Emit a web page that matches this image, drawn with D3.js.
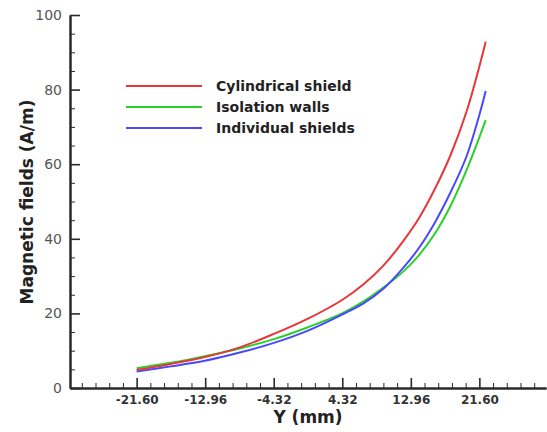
<!DOCTYPE html>
<html>
<head>
<meta charset="utf-8">
<script src="https://cdn.jsdelivr.net/npm/d3@7"></script>
<style>
  html, body { margin: 0; padding: 0; background: #fff; }
  svg { display: block; }
</style>
</head>
<body>
<svg id="chart" width="547" height="432"></svg>
<script>
// Sample positions along Y (mm)
const yPositions = [-21.6, -17.3, -13.0, -8.6, -4.3, 0.0, 4.3, 7.0, 9.5, 12.0, 14.0, 16.0, 18.0, 20.0, 21.6, 22.4];

// Magnetic field (A/m) for each shielding arrangement
const cylindricalShield = [4.85, 6.45, 8.3, 10.9, 14.5, 18.6, 23.6, 27.8, 32.8, 39.4, 45.6, 53.4, 62.6, 74.2, 86.2, 92.8];
const isolationWalls    = [5.3, 6.75, 8.55, 10.6, 13.1, 16.3, 20.0, 23.2, 26.9, 31.2, 35.6, 41.4, 49.0, 58.5, 67.2, 71.8];
const individualShields = [4.45, 5.8, 7.3, 9.5, 12.1, 15.4, 19.7, 22.7, 26.6, 32.2, 37.6, 44.4, 52.6, 62.2, 73.2, 79.6];

const seriesNames = ["Cylindrical shield", "Isolation walls", "Individual shields"];
const seriesColors = ["#e8363a", "#2bd02b", "#4848ff"];

// Axis ticks
const xTicks = [-21.60, -12.96, -4.32, 4.32, 12.96, 21.60];
const xTickLabels = ["-21.60", "-12.96", "-4.32", "4.32", "12.96", "21.60"];
const yTicks = [0, 20, 40, 60, 80, 100];

const svg = d3.select("#chart");

const x = d3.scaleLinear().domain([-30, 30]).range([70, 546]);
const y = d3.scaleLinear().domain([0, 100]).range([388, 15]);

const axisColor = "#2a2a2a";

// minor ticks: five intervals between x labels, four between y labels
const xMinor = d3.range(-19, 15).map(m => 4.32 + 1.728 * m).filter(v => !xTicks.some(t => Math.abs(t - v) < 1e-6));
const yMinor = d3.range(0, 101, 5).filter(v => v % 20 !== 0);

const xMinorAxis = d3.axisBottom(x).tickValues(xMinor).tickSize(-5).tickFormat("").tickSizeOuter(0);
const yMinorAxis = d3.axisLeft(y).tickValues(yMinor).tickSize(-5).tickFormat("").tickSizeOuter(0);

const xAxis = d3.axisBottom(x)
  .tickValues(xTicks)
  .tickSize(-10)
  .tickSizeOuter(0)
  .tickPadding(7)
  .tickFormat((d, i) => xTickLabels[i]);

const yAxis = d3.axisLeft(y)
  .tickValues(yTicks)
  .tickSize(-10)
  .tickSizeOuter(0)
  .tickPadding(8)
  .tickFormat(d3.format("d"));

function styleAxis(g) {
  g.select(".domain").attr("stroke", axisColor).attr("stroke-width", 2);
  g.selectAll(".tick line").attr("stroke", axisColor).attr("stroke-width", 1.6);
}

svg.append("g").attr("transform", "translate(0,388)").call(xMinorAxis).call(styleAxis)
  .selectAll(".tick line").attr("stroke-width", 1);
svg.append("g").attr("transform", "translate(70,0)").call(yMinorAxis).call(styleAxis)
  .selectAll(".tick line").attr("stroke-width", 1);

const gx = svg.append("g").attr("transform", "translate(0,388)").call(xAxis).call(styleAxis);
gx.selectAll(".tick text")
  .attr("font-family", "'DejaVu Sans', sans-serif")
  .attr("font-weight", "bold")
  .attr("font-size", 12)
  .attr("fill", "#333");

const gy = svg.append("g").attr("transform", "translate(70,0)").call(yAxis).call(styleAxis);
gy.selectAll(".tick text")
  .attr("font-family", "'DejaVu Sans', sans-serif")
  .attr("font-size", 14)
  .attr("fill", "#555");

// Axis titles
svg.append("text")
  .attr("x", 308).attr("y", 423)
  .attr("text-anchor", "middle")
  .attr("font-family", "'DejaVu Sans', sans-serif")
  .attr("font-weight", "bold")
  .attr("font-size", 17)
  .attr("fill", "#222")
  .text("Y (mm)");

svg.append("text")
  .attr("transform", "translate(33,202) rotate(-90)")
  .attr("text-anchor", "middle")
  .attr("font-family", "'DejaVu Sans', sans-serif")
  .attr("font-weight", "bold")
  .attr("font-size", 17)
  .attr("fill", "#222")
  .text("Magnetic fields (A/m)");

// Curves
const seriesValues = [cylindricalShield, isolationWalls, individualShields];
const line = d3.line()
  .x(d => x(d[0]))
  .y(d => y(d[1]))
  .curve(d3.curveCatmullRom.alpha(0.5));

// green first, then blue, red on top
[1, 2, 0].forEach(i => {
  svg.append("path")
    .datum(yPositions.map((p, k) => [p, seriesValues[i][k]]))
    .attr("fill", "none")
    .attr("stroke", seriesColors[i])
    .attr("stroke-width", 2)
    .attr("d", line);
});

// Legend
const legend = svg.append("g");
seriesNames.forEach((name, i) => {
  const ly = 86 + i * 21;
  legend.append("line")
    .attr("x1", 126).attr("x2", 202)
    .attr("y1", ly).attr("y2", ly)
    .attr("stroke", seriesColors[i])
    .attr("stroke-width", 1.8);
  legend.append("text")
    .attr("x", 216).attr("y", ly)
    .attr("dy", "0.36em")
    .attr("font-family", "'DejaVu Sans', sans-serif")
    .attr("font-weight", "bold")
    .attr("font-size", 14)
    .attr("fill", "#222")
    .text(name);
});
</script>
</body>
</html>
